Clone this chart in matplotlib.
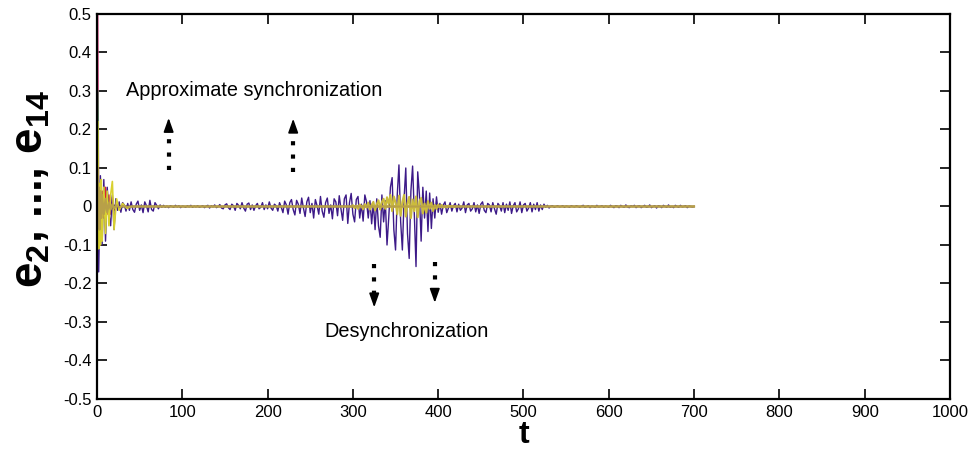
import numpy as np
import matplotlib
matplotlib.use("Agg")
import matplotlib.pyplot as plt

plt.rcParams['font.family'] = ['Liberation Sans', 'DejaVu Sans']
plt.rcParams['mathtext.fontset'] = 'custom'
plt.rcParams['mathtext.rm'] = 'Liberation Sans:bold'
plt.rcParams['mathtext.it'] = 'Liberation Sans:bold'
plt.rcParams['mathtext.bf'] = 'Liberation Sans:bold'

# purple error signal, sampled every 2 time units from t=0 (20 samples per row = 40 time units)
purple_vals = [
    0.0, -0.17, 0.08, -0.10, 0.07, -0.09, 0.05, -0.02, -0.05, 0.03, -0.06, 0.02, -0.01, 0.012, -0.015, 0.01, 0.004, -0.012, 0.008, -0.01,
    0.012, -0.008, -0.015, 0.006, 0.014, -0.01, 0.004, -0.016, 0.012, 0.002, -0.014, 0.016, -0.008, -0.012, 0.01, 0.003, -0.006, 0.004, -0.002, 0.003,
    -0.002, 0.001, -0.003, 0.002, 0.0, -0.002, 0.003, -0.001, 0.002, -0.003, 0.001, 0.0, -0.002, 0.002, -0.001, 0.003, -0.002, 0.001, -0.001, 0.002,
    -0.002, 0.0, 0.002, -0.003, 0.001, 0.003, -0.004, 0.002, -0.001, 0.004, -0.003, 0.0, 0.005, -0.004, -0.006, 0.004, 0.007, -0.003, -0.008, 0.006,
    0.002, -0.01, 0.008, 0.003, -0.006, 0.01, -0.004, -0.012, 0.006, 0.009, -0.008, 0.004, -0.01, 0.002, 0.008, -0.006, -0.002, 0.01, -0.008, 0.004,
    -0.006, 0.012, -0.004, -0.01, 0.006, 0.002, -0.012, 0.01, -0.002, -0.016, 0.014, 0.004, -0.02, 0.01, 0.018, -0.008, -0.022, 0.016, 0.006, -0.018,
    0.022, -0.004, -0.026, 0.012, 0.024, -0.016, 0.008, -0.03, 0.018, 0.002, -0.02, 0.026, -0.012, -0.028, 0.01, 0.022, -0.018, 0.004, -0.032, 0.02,
    0.012, -0.024, 0.028, -0.006, -0.036, 0.02, 0.03, -0.044, 0.01, 0.034, -0.02, -0.04, 0.018, 0.026, -0.03, 0.006, -0.038, 0.03, 0.012, -0.03,
    0.015, -0.045, 0.01, -0.06, 0.02, -0.05, -0.08, 0.03, -0.04, 0.015, -0.10, -0.03, 0.05, 0.075, -0.06, -0.113, 0.03, 0.108, -0.04, -0.113,
    0.02, 0.10, -0.07, -0.135, 0.04, 0.105, -0.02, -0.156, 0.09, 0.03, -0.09, 0.05, -0.03, 0.04, -0.065, 0.035, -0.057, 0.02, -0.03, 0.025,
    -0.015, 0.008, -0.02, 0.004, 0.012, -0.016, -0.004, 0.01, -0.012, 0.002, 0.008, -0.014, 0.006, -0.01, -0.004, 0.012, -0.016, 0.004, 0.008, -0.012,
    -0.006, 0.01, -0.014, 0.004, -0.018, 0.006, 0.012, -0.01, -0.016, 0.008, 0.004, -0.014, 0.01, -0.006, -0.02, 0.008, 0.002, -0.012, 0.01, -0.016,
    0.006, -0.01, 0.012, -0.018, 0.002, 0.01, -0.014, -0.006, 0.012, -0.016, 0.004, 0.008, -0.012, -0.004, 0.01, -0.014, 0.006, -0.008, 0.01, -0.012,
    0.004, -0.008, 0.006, -0.002, 0.003, -0.004, 0.001, 0.002, -0.002, 0.0, 0.002, -0.001, 0.0, 0.002, -0.002, 0.001, 0.0, -0.002, 0.002, 0.0,
    -0.001, 0.002, 0.0, -0.002, 0.001, 0.003, -0.002, 0.0, 0.002, -0.003, 0.001, 0.0, -0.002, 0.003, -0.001, 0.0, 0.002, -0.002, 0.001, 0.0,
    -0.002, 0.003, 0.0, -0.003, 0.002, 0.001, -0.003, 0.003, 0.0, -0.002, 0.004, -0.001, -0.003, 0.002, 0.0, 0.003, -0.003, 0.001, 0.002, -0.003,
    0.0, 0.003, -0.002, -0.001, 0.004, -0.003, 0.0, 0.002, -0.004, 0.002, 0.001, -0.003, 0.003, 0.0, -0.002, 0.004, -0.002, 0.0, -0.003, 0.003,
    0.0, -0.002, 0.003, -0.001, 0.0, 0.002, -0.003, 0.001, 0.0, -0.001, 0.0,
]
t_purple = np.arange(len(purple_vals)) * 2

# other errors: fast transient then settled at zero until t=700
t_fast = [1, 1.5, 2, 3, 4, 5, 6, 8, 10, 12, 14, 16, 18, 20, 23, 26, 30, 35, 40, 700]
pink_vals = [0.5, 0.25, -0.05, 0.04, -0.03, 0.02, -0.02, 0.015, -0.01, 0.01, -0.008, 0.006, -0.005, 0.004, -0.003, 0.002, -0.001, 0.001, 0, 0]
green_vals = [0.3, 0.18, -0.06, 0.05, -0.04, 0.03, -0.02, 0.02, -0.015, 0.01, -0.008, 0.006, -0.004, 0.003, -0.002, 0.002, -0.001, 0.001, 0, 0]
yellow_vals = [0.22, 0.05, -0.11, 0.06, -0.10, 0.07, -0.09, 0.05, -0.07, 0.04, -0.05, 0.03, 0.065, -0.06, 0.02, -0.01, 0.008, -0.005, 0, 0]
red_vals = [0.05, -0.02, 0.06, -0.03, 0.05, -0.06, 0.04, -0.03, 0.05, -0.02, 0.03, -0.02, 0.025, -0.01, 0.01, -0.005, 0.004, -0.002, 0, 0]
cyan_vals = [-0.05, -0.13, 0.02, -0.09, 0.04, -0.05, 0.03, -0.03, 0.02, -0.015, 0.015, -0.01, 0.008, -0.006, 0.005, -0.003, 0.002, -0.001, 0, 0]
gold_vals = [0.1, -0.04, 0.05, -0.06, 0.04, -0.03, 0.03, -0.02, 0.02, -0.015, 0.01, -0.008, 0.006, -0.004, 0.003, -0.002, 0.001, -0.001, 0, 0]

# gold error burst during desynchronization, every 2 units from t=300
gold_burst_vals = [
    0.003, -0.004, 0.002, -0.006, 0.005, 0.001, -0.007, 0.006, -0.003, 0.01, -0.008, 0.004, 0.012, -0.01, 0.006, 0.016, -0.008, 0.012, 0.02, -0.006,
    0.024, 0.006, 0.03, -0.012, 0.026, 0.01, -0.02, 0.028, -0.024, 0.012, 0.03, -0.026, 0.008, 0.025, -0.03, 0.018, -0.012, 0.026, -0.028, 0.014,
    0.022, -0.018, 0.008, -0.016, 0.014, -0.006, 0.01, -0.012, 0.004, -0.006, 0.005, -0.002, 0.004, -0.003, 0.001, -0.002, 0.002, 0.0, 0.001, -0.001, 0.0,
]
t_gold_burst = 300 + np.arange(len(gold_burst_vals)) * 2

fig = plt.figure(figsize=(9.68, 4.51), dpi=100)
ax = fig.add_axes([0.1002, 0.1153, 0.8812, 0.8537])

ax.plot(t_fast, pink_vals, color='#e0508c', lw=1)
ax.plot(t_fast, green_vals, color='#3c8c5a', lw=1)
ax.plot(t_fast, cyan_vals, color='#28a0d0', lw=1)
ax.plot(t_fast, red_vals, color='#e02030', lw=1)
ax.plot(t_purple, purple_vals, color='#3d1a88', lw=1)
ax.plot(t_fast, yellow_vals, color='#d8d030', lw=1.2)
ax.plot(t_gold_burst, gold_burst_vals, color='#cbbb3c', lw=1.5)
ax.plot(t_fast, gold_vals, color='#b8a048', lw=1.5)

ax.set_xlim(0, 1000)
ax.set_ylim(-0.5, 0.5)
ax.set_xticks(np.arange(0, 1001, 100))
yt = np.round(np.arange(-0.5, 0.51, 0.1), 1)
ax.set_yticks(yt)
ax.set_yticklabels(['0' if v == 0 else ('%g' % v) for v in yt])
ax.tick_params(direction='in', length=7, width=1.2, top=True, right=True, labelsize=12, pad=4)
for s in ax.spines.values():
    s.set_linewidth(1.6)

xl = ax.set_xlabel('t', fontsize=23, fontweight='bold')
xl.set_va('baseline')
ax.xaxis.set_label_coords(0.5, -0.115)
ax.set_ylabel('e$_2$, ..., e$_{14}$', fontsize=33, fontweight='bold')
ax.yaxis.set_label_coords(-0.052, 0.545)

ax.text(34, 0.3, 'Approximate synchronization', fontsize=14.3, va='center', ha='left')
ax.text(267, -0.325, 'Desynchronization', fontsize=14.3, va='center', ha='left')

# dotted arrows
for x0, y0, y1 in [(84, 0.095, 0.23), (230, 0.09, 0.228), (325, -0.15, -0.262), (396, -0.145, -0.25)]:
    d = 1 if y1 > y0 else -1
    ax.plot([x0, x0], [y0, y1 - d * 0.025], color='k', lw=3, linestyle=(0, (1, 2.2)), dash_capstyle='butt')
    ax.annotate('', xy=(x0, y1), xytext=(x0, y1 - d * 0.035),
                arrowprops=dict(arrowstyle='-|>,head_width=0.25,head_length=0.7', color='k', lw=1.2,
                                mutation_scale=12, shrinkA=0, shrinkB=0))

fig.savefig('out.png', dpi=100)
